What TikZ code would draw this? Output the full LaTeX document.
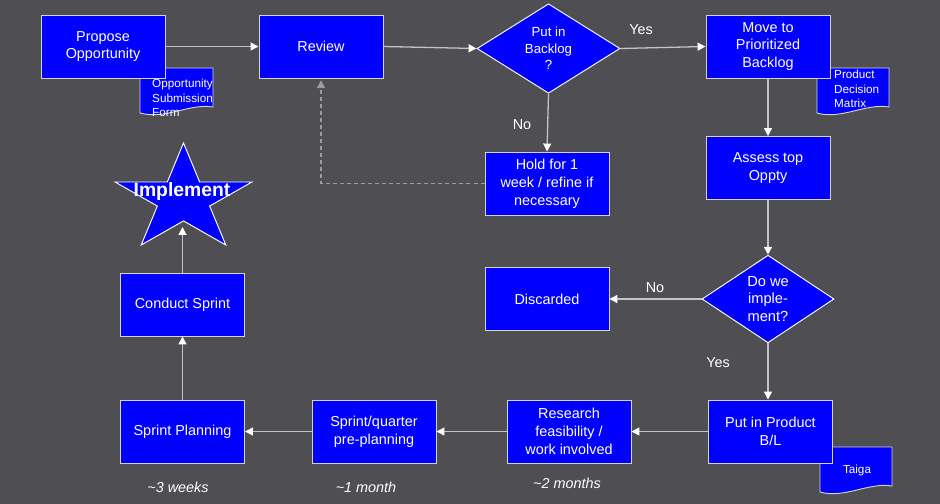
\documentclass[tikz,border=0pt]{standalone}
\usepackage{fontspec}
\setmainfont{Liberation Sans}
\usepackage{xcolor}
\definecolor{slatebg}{HTML}{4E4E53}
\definecolor{flowblue}{HTML}{0000FF}
\definecolor{edgegray}{HTML}{C4C4C4}
\definecolor{dashgray}{HTML}{9C9C9C}
\definecolor{rimgray}{HTML}{D4D4D4}
\usepackage{tikz}
\usetikzlibrary{shapes.geometric, arrows.meta, positioning}

\begin{document}
\begin{tikzpicture}[x=0.03cm, y=-0.03cm,
  stepbox/.style={rectangle, draw=rimgray, fill=flowblue, line width=0.8pt,
    minimum width=3.72cm, minimum height=1.89cm, align=center, text=white,
    inner sep=1pt, font=\fontsize{12.3}{15.3}\selectfont},
  choice/.style={diamond, draw=white, fill=flowblue, line width=0.8pt,
    inner sep=0pt, align=center, text=white},
  docpage/.style={draw=rimgray, fill=flowblue, line width=0.8pt},
  doctext/.style={text=white, inner sep=0pt, align=left,
    font=\fontsize{10}{12.6}\selectfont},
  flow/.style={draw=edgegray, line width=1.1pt,
    -{Triangle[length=6.8pt, width=6.8pt, color=white]}},
  backflow/.style={draw=dashgray, line width=1.1pt, dash pattern=on 3.4pt off 2.6pt,
    -{Triangle[length=6.8pt, width=6.8pt, color=dashgray]}, shorten >=1.5pt},
  answer/.style={text=white, font=\fontsize{12.3}{15}\selectfont},
  span/.style={text=white, font=\fontsize{12.3}{15}\selectfont\itshape}
]
\fill[slatebg] (0,0) rectangle (940,504);

% Documents behind the boxes
\draw[docpage] (140,68) -- (213,68) -- (213,107)
  .. controls (190,103) and (165,120) .. (140,113) -- cycle;
\node[doctext, anchor=west] (formtext) at (152,98) {Opportunity\\Submission\\Form};
\draw[docpage] (817,68) -- (889,68) -- (889,107)
  .. controls (866,103) and (841,120) .. (817,113) -- cycle;
\node[doctext, anchor=west] (matrixtext) at (834,89) {Product\\Decision\\Matrix};
\draw[docpage] (820,447) -- (892,447) -- (892,486)
  .. controls (869,482) and (844,499) .. (820,492) -- cycle;
\node[doctext] (taigatext) at (857,470) {Taiga};

% Top row
\node[stepbox] (propose) at (103,46.5) {Propose\\Opportunity};
\node[stepbox] (review) at (321,46.5) {Review};
\node[choice, minimum width=4.29cm, minimum height=2.55cm,
  font=\fontsize{11.3}{14}\selectfont] (backlog) at (548.5,48.5) {Put in\\Backlog\\?};
\node[stepbox] (prioritized) at (768,46.5) {Move to\\Prioritized\\Backlog};
\node[stepbox] (hold) at (547,183.5) {Hold for 1\\week / refine if\\necessary};

% Right column
\node[stepbox] (assess) at (768,168) {Assess top\\Oppty};
\node[choice, minimum width=3.96cm, minimum height=2.52cm,
  font=\fontsize{12.5}{15.3}\selectfont] (decide) at (768,299) {Do we\\imple-\\ment?};
\node[stepbox] (discarded) at (547,299) {Discarded};

% Bottom row
\node[stepbox] (productbl) at (770.5,431.5) {Put in Product\\B/L};
\node[stepbox] (research) at (569,431.5) {Research\\feasibility /\\work involved};
\node[stepbox] (preplan) at (374,431.5) {Sprint/quarter\\pre-planning};
\node[stepbox] (planning) at (182.5,431.5) {Sprint Planning};
\node[stepbox] (conduct) at (182.5,304.5) {Conduct Sprint};

% Star
\draw[draw=white, fill=flowblue, line width=0.8pt] (183.5,143)
  \foreach \i in {1,...,9} {
    -- ({183.5 + (mod(\i,2)==0 ? 72 : 27.5)*cos(-90+36*\i)},
        {199.4 + (mod(\i,2)==0 ? 56.4 : 21.5)*sin(-90+36*\i)})
  } -- cycle;
\node[text=white, font=\fontsize{16.5}{18}\selectfont\bfseries] (implement) at (182,192) {Implement};
\coordinate (starfoot) at (182.5,227);

% Connectors
\draw[flow] (propose.east) -- (review.west);
\draw[flow] (review.east) -- (backlog.west);
\draw[flow] (backlog.east) -- (prioritized.west);
\draw[flow] (backlog.south) -- (hold.north);
\draw[backflow] (hold.west) -| (review.south);
\draw[flow] (prioritized.south) -- (assess.north);
\draw[flow] (assess.south) -- (decide.north);
\draw[flow] (decide.west) -- (discarded.east);
\draw[flow] (decide.south) -- (decide.south |- productbl.north);
\draw[flow] (productbl.west) -- (research.east);
\draw[flow] (research.west) -- (preplan.east);
\draw[flow] (preplan.west) -- (planning.east);
\draw[flow] (planning.north) -- (conduct.south);
\draw[flow] (conduct.north) -- (starfoot);

% Labels
\node[answer] (yes1) at (641,30) {Yes};
\node[answer] (no1) at (522,125) {No};
\node[answer] (no2) at (655,288) {No};
\node[answer] (yes2) at (718,363) {Yes};
\node[span] (weeks) at (178,487) {\textasciitilde3 weeks};
\node[span] (month) at (366,487) {\textasciitilde1 month};
\node[span] (months) at (567,483) {\textasciitilde2 months};
\end{tikzpicture}
\end{document}
